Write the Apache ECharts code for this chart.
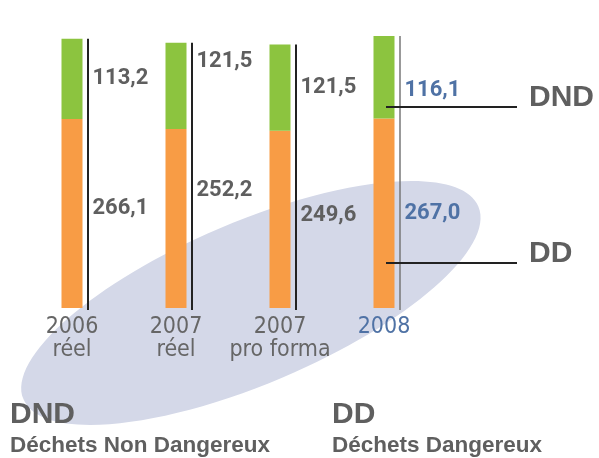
<!DOCTYPE html>
<html>
<head>
<meta charset="utf-8">
<script src="https://cdn.jsdelivr.net/npm/echarts@6/dist/echarts.min.js"></script>
<style>
  html, body { margin: 0; padding: 0; background: #fff; }
  #main { width: 599px; height: 458px; }
</style>
</head>
<body>
<div id="main"></div>
<script>
// données (milliers de tonnes)
var years = ['2006\nréel', '2007\nréel', '2007\npro forma', '2008'];
var dd = [266.1, 252.2, 249.6, 267.0];   // Déchets Dangereux
var dnd = [113.2, 121.5, 121.5, 116.1];  // Déchets Non Dangereux

// décalages des étiquettes (comme sur le visuel)
var ddNudge = [-5, -28, -4, 0];
var dndNudge = [0, -24, 0, 13];

var gray = '#5f5f5f';
var blue = '#4f72a5';
var fmt = function (v) { return v.toFixed(1).replace('.', ','); };

var myChart = echarts.init(document.getElementById('main'));

var totals = dd.map(function (v, i) { return [i, v + dnd[i]]; });

var option = {
    animation: false,
    grid: { left: 20, right: 163, top: 24, bottom: 150 },
    xAxis: {
        type: 'category',
        data: years.map(function (y, i) {
            return { value: y, textStyle: { color: i === 3 ? blue : '#666' } };
        }),
        axisLine: { show: false },
        axisTick: { show: false },
        axisLabel: {
            interval: 0,
            hideOverlap: false,
            margin: 8,
            fontFamily: 'DejaVu Sans Condensed, Liberation Sans Narrow, sans-serif',
            fontSize: 23,
            lineHeight: 23,
            verticalAlign: 'top'
        }
    },
    yAxis: { type: 'value', min: 0, max: 400, show: false },
    series: [
        {
            name: 'DD',
            type: 'bar',
            stack: 'total',
            barWidth: 21,
            itemStyle: { color: '#f89c45' },
            data: dd.map(function (v, i) {
                return { value: v, label: { offset: [0, ddNudge[i]], color: i === 3 ? blue : gray } };
            }),
            label: {
                show: true,
                position: 'right',
                distance: 10,
                fontFamily: 'Roboto',
                fontWeight: 'bold',
                fontSize: 22,
                formatter: function (p) { return fmt(p.value); }
            }
        },
        {
            name: 'DND',
            type: 'bar',
            stack: 'total',
            barWidth: 21,
            itemStyle: { color: '#8cc43f' },
            data: dnd.map(function (v, i) {
                return { value: v, label: { offset: [0, dndNudge[i]], color: i === 3 ? blue : gray } };
            }),
            label: {
                show: true,
                position: 'right',
                distance: 10,
                fontFamily: 'Roboto',
                fontWeight: 'bold',
                fontSize: 22,
                formatter: function (p) { return fmt(p.value); }
            }
        },
        {
            // traits verticaux à droite des barres
            type: 'custom',
            z: 3,
            data: totals,
            renderItem: function (params, api) {
                var top = api.coord([api.value(0), api.value(1)]);
                var bot = api.coord([api.value(0), 0]);
                var x = top[0] + 16;
                var last = params.dataIndex === 3;
                return {
                    type: 'line',
                    shape: { x1: x, y1: top[1], x2: x, y2: bot[1] + 2 },
                    style: { stroke: last ? '#777' : '#222', lineWidth: last ? 1.5 : 2 }
                };
            }
        }
    ],
    graphic: [
        {
            type: 'ellipse',
            z: 0,
            x: 251, y: 303,
            rotation: 23 * Math.PI / 180,
            shape: { cx: 0, cy: 0, rx: 247, ry: 81 },
            style: { fill: '#d4d8e8' }
        },
        { type: 'line', z: 10, shape: { x1: 386, y1: 107, x2: 517, y2: 107 }, style: { stroke: '#222', lineWidth: 2 } },
        { type: 'line', z: 10, shape: { x1: 386, y1: 263, x2: 517, y2: 263 }, style: { stroke: '#222', lineWidth: 2 } },
        { type: 'text', z: 10, x: 529, y: 98, style: { text: 'DND', font: 'bold 30px "Liberation Sans", Arial', fill: gray, verticalAlign: 'middle' } },
        { type: 'text', z: 10, x: 529, y: 254, style: { text: 'DD', font: 'bold 30px "Liberation Sans", Arial', fill: gray, verticalAlign: 'middle' } },
        { type: 'text', z: 10, x: 10, y: 415, style: { text: 'DND', font: 'bold 30px "Liberation Sans", Arial', fill: gray, verticalAlign: 'middle' } },
        { type: 'text', z: 10, x: 10, y: 446, style: { text: 'Déchets Non Dangereux', font: 'bold 22.5px "Liberation Sans", Arial', fill: gray, verticalAlign: 'middle' } },
        { type: 'text', z: 10, x: 332, y: 415, style: { text: 'DD', font: 'bold 30px "Liberation Sans", Arial', fill: gray, verticalAlign: 'middle' } },
        { type: 'text', z: 10, x: 332, y: 446, style: { text: 'Déchets Dangereux', font: 'bold 22.5px "Liberation Sans", Arial', fill: gray, verticalAlign: 'middle' } }
    ]
};

myChart.setOption(option);
window.addEventListener('resize', function () {
    myChart.resize();
});
</script>
</body>
</html>
